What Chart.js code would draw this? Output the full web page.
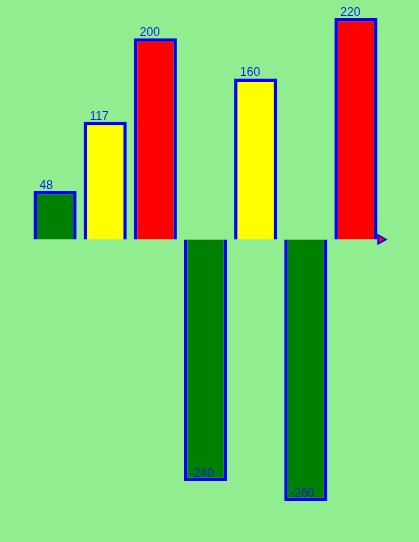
<!DOCTYPE html>
<html>
<head>
<meta charset="utf-8">
<script src="https://cdn.jsdelivr.net/npm/chart.js@4.4.1/dist/chart.umd.min.js"></script>
<style>
  html, body { margin: 0; padding: 0; background: #90ee90; }
  canvas { display: block; }
</style>
</head>
<body>
<canvas id="grafico" width="419" height="542"></canvas>
<script>
  // dados do grafico
  var categorias = ["A", "B", "C", "D", "E", "F", "G"]
  var valores = [48, 117, 200, -240, 160, -260, 220]
  var cores = ["#008000", "#ffff00", "#ff0000", "#008000", "#ffff00", "#008000", "#ff0000"]

  // escreve o valor em cima (ou embaixo) de cada barra
  var rotulos = {
    id: "rotulos",
    afterDatasetsDraw: function(chart){
      var ctx = chart.ctx
      var meta = chart.getDatasetMeta(0)
      ctx.save()
      ctx.font = "12px 'Liberation Sans', Arial, sans-serif"
      ctx.fillStyle = "#0a1ee8"
      ctx.textAlign = "left"
      ctx.textBaseline = "alphabetic"
      meta.data.forEach(function(bar, i){
        var v = valores[i]
        var esq = bar.x - bar.width / 2 + 6
        if (v >= 0) {
          ctx.fillText(String(v), esq, bar.y - 2)
        } else {
          ctx.fillText(String(v), esq, bar.y - 4)
        }
      })
      ctx.restore()
    }
  }

  // setinha no fim do eixo x
  var seta = {
    id: "seta",
    afterDraw: function(chart){
      var ctx = chart.ctx
      var x = chart.scales.x.right
      var y = chart.scales.y.getPixelForValue(0)
      ctx.save()
      ctx.beginPath()
      ctx.moveTo(x - 3, y - 4.5)
      ctx.lineTo(x + 5, y)
      ctx.lineTo(x - 3, y + 4.5)
      ctx.closePath()
      ctx.fillStyle = "#ff0000"
      ctx.fill()
      ctx.lineWidth = 1.5
      ctx.strokeStyle = "#0000ff"
      ctx.stroke()
      ctx.restore()
    }
  }

  new Chart(document.getElementById("grafico"), {
    type: "bar",
    data: {
      labels: categorias,
      datasets: [{
        data: valores,
        backgroundColor: cores,
        borderColor: "#0000ff",
        borderWidth: 3.5,
        borderSkipped: "start",
        barPercentage: 0.86,
        categoryPercentage: 1
      }]
    },
    options: {
      responsive: false,
      animation: false,
      devicePixelRatio: 1,
      layout: { padding: { left: 30, right: 38, top: 18, bottom: 41 } },
      plugins: {
        legend: { display: false },
        tooltip: { enabled: false }
      },
      scales: {
        x: { display: false },
        y: { display: false, min: -260, max: 220 }
      }
    },
    plugins: [rotulos, seta]
  })
</script>
</body>
</html>
